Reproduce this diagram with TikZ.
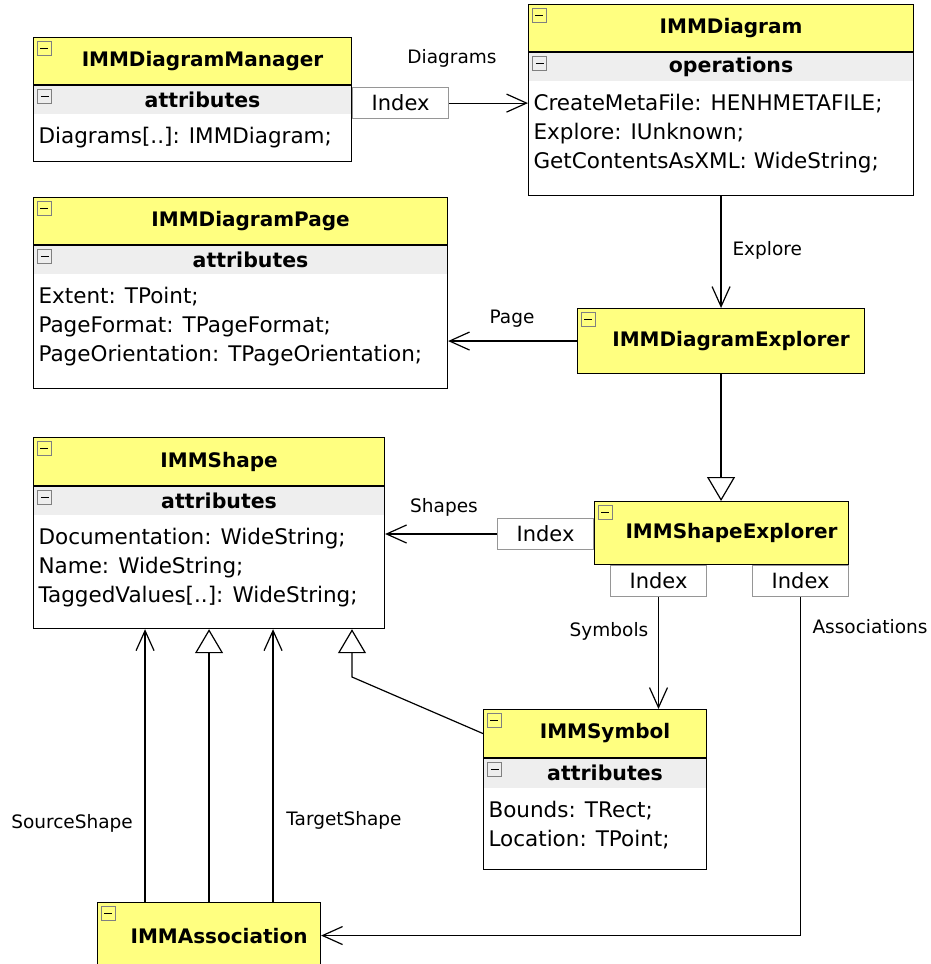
\documentclass[tikz,border=0pt]{standalone}
\usepackage{fontspec}
\setmainfont{DejaVu Sans}
\usetikzlibrary{positioning,arrows.meta,calc}

\definecolor{classyellow}{RGB}{255,255,128}
\definecolor{bandgray}{RGB}{238,238,238}
\definecolor{idxgray}{RGB}{150,150,150}

\begin{document}
\begin{tikzpicture}[
    x=1pt, y=-1pt,
    hdr/.style={rectangle, draw, line width=1.1pt, fill=classyellow, inner sep=0pt, minimum height=47pt, font=\fontsize{20}{24}\selectfont\bfseries, execute at begin node=\hspace*{20pt}},
    band/.style={rectangle, fill=bandgray, inner sep=0pt, minimum height=29pt, font=\fontsize{20.5}{24}\selectfont\bfseries, execute at begin node=\hspace*{20pt}},
    classframe/.style={rectangle, draw, line width=1.1pt, inner sep=0pt},
    items/.style={align=left, inner sep=0pt, font=\fontsize{21.5}{29}\selectfont},
    idx/.style={rectangle, draw=idxgray, line width=1pt, fill=white, minimum width=96pt, minimum height=31pt, inner sep=0pt, font=\fontsize{21}{24}\selectfont},
    toggle/.style={rectangle, draw=gray, line width=0.8pt, fill=classyellow, minimum size=14pt, inner sep=0pt},
    lbl/.style={font=\fontsize{18.5}{22}\selectfont},
    link/.style={line width=1.2pt, -{Straight Barb[length=20pt, width=18pt, line width=1.2pt]}},
    inherit/.style={line width=1.2pt, -{Triangle[open, length=24pt, width=28pt, line width=1.2pt]}}
]
    \useasboundingbox (0,0) rectangle (930,964);

    % IMMDiagramManager
    \node[hdr, minimum width=318pt, anchor=north west] (mgr) at (33,37) {IMMDiagramManager};
    \node[band, minimum width=318pt, below=0pt of mgr] (mgr-att) {attributes};
    \node[classframe, minimum width=318pt, minimum height=76pt, below=0pt of mgr] (mgr-body) {};
    \node[items, anchor=north west] (mgr-list) at ([shift={(5,12)}]mgr-att.south west) {Diagrams[..]: IMMDiagram;};
    \node[idx, anchor=north west] (mgr-idx) at ([yshift=-2pt]mgr-body.north east) {Index};

    % IMMDiagram
    \node[hdr, minimum width=385pt, anchor=north west] (dgm) at (528,4) {IMMDiagram};
    \node[band, minimum width=385pt, below=0pt of dgm] (dgm-ops) {operations};
    \node[classframe, minimum width=385pt, minimum height=143pt, below=0pt of dgm] (dgm-body) {};
    \node[items, anchor=north west] (dgm-list) at ([shift={(5,12)}]dgm-ops.south west) {CreateMetaFile: HENHMETAFILE;\\Explore: IUnknown;\\GetContentsAsXML: WideString;};

    % IMMDiagramPage
    \node[hdr, minimum width=414pt, anchor=north west] (page) at (33,197) {IMMDiagramPage};
    \node[band, minimum width=414pt, below=0pt of page] (page-att) {attributes};
    \node[classframe, minimum width=414pt, minimum height=143pt, below=0pt of page] (page-body) {};
    \node[items, anchor=north west] (page-list) at ([shift={(5,12)}]page-att.south west) {Extent: TPoint;\\PageFormat: TPageFormat;\\PageOrientation: TPageOrientation;};

    % explorers
    \node[hdr, minimum width=287pt, minimum height=65pt, anchor=north west] (explr) at (577,308) {IMMDiagramExplorer};
    \node[hdr, minimum width=254pt, minimum height=63pt, anchor=north west] (shexp) at (594,501) {IMMShapeExplorer};
    \node[idx, anchor=north east] (shexp-idx1) at ([yshift=-17pt]shexp.north west) {Index};
    \node[idx, anchor=north west] (shexp-idx2) at ([xshift=16pt]shexp.south west) {Index};
    \node[idx, anchor=north east] (shexp-idx3) at (shexp.south east) {Index};

    % IMMShape
    \node[hdr, minimum width=351pt, minimum height=48pt, anchor=north west] (shape) at (33,437) {IMMShape};
    \node[band, minimum width=351pt, below=0pt of shape] (shape-att) {attributes};
    \node[classframe, minimum width=351pt, minimum height=142pt, below=0pt of shape] (shape-body) {};
    \node[items, anchor=north west] (shape-list) at ([shift={(5,12)}]shape-att.south west) {Documentation: WideString;\\Name: WideString;\\TaggedValues[..]: WideString;};

    % IMMSymbol
    \node[hdr, minimum width=223pt, minimum height=48pt, anchor=north west] (sym) at (483,709) {IMMSymbol};
    \node[band, minimum width=223pt, minimum height=30pt, below=0pt of sym] (sym-att) {attributes};
    \node[classframe, minimum width=223pt, minimum height=111pt, below=0pt of sym] (sym-body) {};
    \node[items, anchor=north west] (sym-list) at ([shift={(5,12)}]sym-att.south west) {Bounds: TRect;\\Location: TPoint;};

    % IMMAssociation
    \node[hdr, minimum width=223pt, minimum height=66pt, anchor=north west] (assoc) at (97,902) {IMMAssociation};

    % toggles
    \node[toggle, anchor=north west] (tg-mgr) at ([shift={(4,4)}]mgr.north west) {\rule{8pt}{1.6pt}};
    \node[toggle, anchor=north west, fill=bandgray] (tg-mgr-att) at ([shift={(4,4)}]mgr-att.north west) {\rule{8pt}{1.6pt}};
    \node[toggle, anchor=north west] (tg-dgm) at ([shift={(4,4)}]dgm.north west) {\rule{8pt}{1.6pt}};
    \node[toggle, anchor=north west, fill=bandgray] (tg-dgm-ops) at ([shift={(4,4)}]dgm-ops.north west) {\rule{8pt}{1.6pt}};
    \node[toggle, anchor=north west] (tg-page) at ([shift={(4,4)}]page.north west) {\rule{8pt}{1.6pt}};
    \node[toggle, anchor=north west, fill=bandgray] (tg-page-att) at ([shift={(4,4)}]page-att.north west) {\rule{8pt}{1.6pt}};
    \node[toggle, anchor=north west] (tg-explr) at ([shift={(4,4)}]explr.north west) {\rule{8pt}{1.6pt}};
    \node[toggle, anchor=north west] (tg-shexp) at ([shift={(4,4)}]shexp.north west) {\rule{8pt}{1.6pt}};
    \node[toggle, anchor=north west] (tg-shape) at ([shift={(4,4)}]shape.north west) {\rule{8pt}{1.6pt}};
    \node[toggle, anchor=north west, fill=bandgray] (tg-shape-att) at ([shift={(4,4)}]shape-att.north west) {\rule{8pt}{1.6pt}};
    \node[toggle, anchor=north west] (tg-sym) at ([shift={(4,4)}]sym.north west) {\rule{8pt}{1.6pt}};
    \node[toggle, anchor=north west, fill=bandgray] (tg-sym-att) at ([shift={(4,4)}]sym-att.north west) {\rule{8pt}{1.6pt}};
    \node[toggle, anchor=north west] (tg-assoc) at ([shift={(4,4)}]assoc.north west) {\rule{8pt}{1.6pt}};

    % connectors
    \draw[link] (mgr-idx.east) -- (mgr-idx.east -| dgm-body.west);
    \node[lbl] (lbl-diagrams) at (452,58) {Diagrams};
    \draw[link] (dgm-body.south) -- (explr.north);
    \node[lbl, anchor=west] (lbl-explore) at (729,250) {Explore};
    \draw[link] (explr.west) -- (explr.west -| page-body.east);
    \node[lbl] (lbl-page) at (512,319) {Page};
    \draw[inherit] (explr.south) -- (explr.south |- shexp.north);
    \draw[link] (shexp-idx1.west) -- (shexp-idx1.west -| shape-body.east);
    \node[lbl] (lbl-shapes) at (444,507) {Shapes};
    \draw[link] (shexp-idx2.south) -- (shexp-idx2.south |- sym.north);
    \node[lbl] (lbl-symbols) at (609,631) {Symbols};
    \draw[link] (shexp-idx3.south) |- (assoc.east);
    \node[lbl] (lbl-assocs) at (870,627) {Associations};

    \draw[link] ([xshift=-64pt]assoc.north) -- ([xshift=-64pt]assoc.north |- shape-body.south);
    \draw[inherit] (assoc.north) -- (assoc.north |- shape-body.south);
    \draw[link] ([xshift=64pt]assoc.north) -- ([xshift=64pt]assoc.north |- shape-body.south);
    \node[lbl] (lbl-source) at (72,823) {SourceShape};
    \node[lbl] (lbl-target) at (344,820) {TargetShape};
    \coordinate (sym-bend) at (352,677);
    \draw[inherit] (sym.west) -- (sym-bend) -- (sym-bend |- shape-body.south);
\end{tikzpicture}
\end{document}
